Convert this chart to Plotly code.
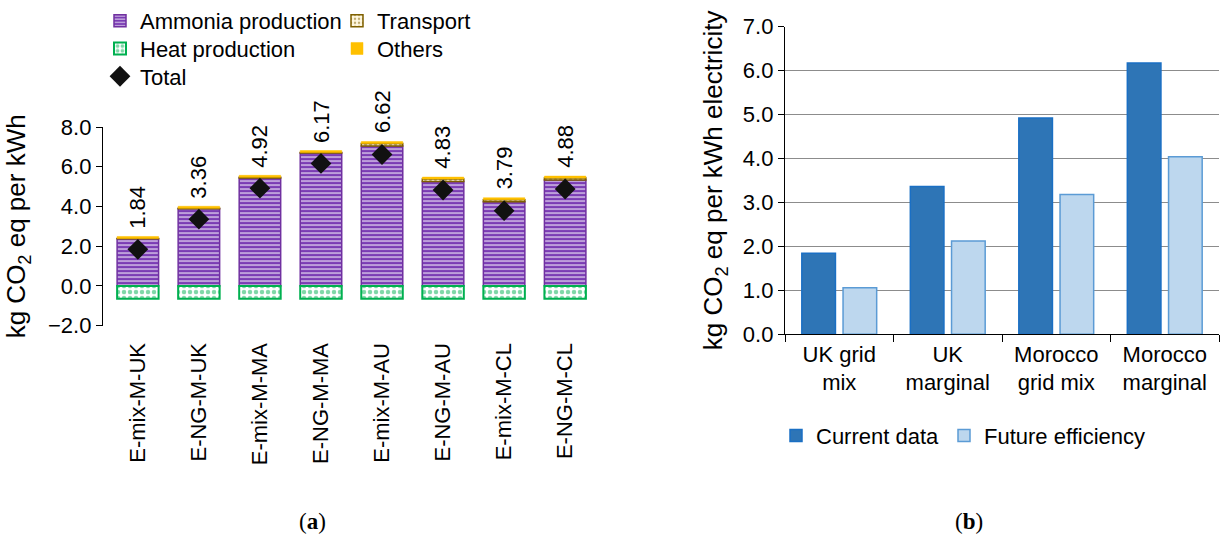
import plotly.graph_objects as go

# ---------------- data: panel (a) ----------------
scenarios = ["E-mix-M-UK", "E-NG-M-UK", "E-mix-M-MA", "E-NG-M-MA",
             "E-mix-M-AU", "E-NG-M-AU", "E-mix-M-CL", "E-NG-M-CL"]
ammonia_production = [2.37, 3.89, 5.44, 6.69, 7.05, 5.26, 4.24, 5.33]
transport = [0.02, 0.02, 0.03, 0.03, 0.12, 0.12, 0.10, 0.10]
others = [0.10, 0.10, 0.10, 0.10, 0.10, 0.10, 0.10, 0.10]
heat_production = [-0.65, -0.65, -0.65, -0.65, -0.65, -0.65, -0.65, -0.65]
total = [1.84, 3.36, 4.92, 6.17, 6.62, 4.83, 3.79, 4.88]

# ---------------- data: panel (b) ----------------
grids = ["UK grid<br>mix", "UK<br>marginal", "Morocco<br>grid mix", "Morocco<br>marginal"]
current_data = [1.84, 3.36, 4.92, 6.17]
future_efficiency = [1.06, 2.12, 3.18, 4.04]

W, H = 1225, 541
FONT = "Liberation Sans, Arial, sans-serif"
FS = 22

def px_x(p):
    return p / W

def px_y(p):
    return 1 - p / H

# panel (a) geometry
ax_l, ax_r = px_x(103), px_x(600)
ay_b, ay_t = px_y(324), px_y(124)
yl_min, yl_max = -2, 8
zero_pos = ay_b + (0 - yl_min) / (yl_max - yl_min) * (ay_t - ay_b)

# panel (b) geometry
bx_l, bx_r = px_x(785), px_x(1219)
by_b, by_t = px_y(332.7), px_y(22.7)

fig = go.Figure()

purple = "#7030A0"
stripe_purple = "#7A3CB4"
green = "#00B050"
brown = "#7F6000"
yellow = "#FFC000"

fig.add_trace(go.Bar(
    name="Ammonia production", x=scenarios, y=ammonia_production,
    xaxis="x", yaxis="y", legend="legend",
    marker=dict(color=stripe_purple, line=dict(color=purple, width=1.5),
                pattern=dict(shape="-", fgcolor="white", bgcolor=stripe_purple,
                             size=4, solidity=0.5)),
))
fig.add_trace(go.Bar(
    name="Transport", x=scenarios, y=transport,
    xaxis="x", yaxis="y", legend="legend2",
    marker=dict(color="white", line=dict(color=brown, width=1.5),
                pattern=dict(shape=".", fgcolor=brown, bgcolor="#FFF8E0",
                             size=5, solidity=0.3)),
))
fig.add_trace(go.Bar(
    name="Others", x=scenarios, y=others,
    xaxis="x", yaxis="y", legend="legend4",
    marker=dict(color=yellow, line=dict(color=yellow, width=0.5)),
))
fig.add_trace(go.Bar(
    name="Heat production", x=scenarios, y=heat_production,
    xaxis="x", yaxis="y", legend="legend5",
    marker=dict(color="white", line=dict(color=green, width=2),
                pattern=dict(shape=".", fgcolor=green, bgcolor="white",
                             size=6, solidity=0.45)),
))
fig.add_trace(go.Scatter(
    name="Total", x=scenarios, y=total, mode="markers",
    xaxis="x", yaxis="y", legend="legend6",
    marker=dict(symbol="diamond", size=16, color="#111111"),
))

# panel (b) bars (explicit base keeps them out of the stacking)
fig.add_trace(go.Bar(
    name="Current data", x=grids, y=current_data, base=0,
    width=0.31, offset=-0.345,
    xaxis="x2", yaxis="y2", legend="legend3",
    marker=dict(color="#2E75B6", line=dict(color="#1A6FC4", width=1.5)),
))
fig.add_trace(go.Bar(
    name="Future efficiency", x=grids, y=future_efficiency, base=0,
    width=0.31, offset=0.035,
    xaxis="x2", yaxis="y2", legend="legend7",
    marker=dict(color="#BDD7EE", line=dict(color="#5B9BD5", width=1.5)),
))

for t in fig.data:
    t.showlegend = True

# total labels above stacks
annotations = []
for i, s in enumerate(scenarios):
    top = ammonia_production[i] + transport[i] + others[i]
    annotations.append(dict(
        x=s, y=top, xref="x", yref="y", text=f"{total[i]:.2f}",
        textangle=-90, showarrow=False, yanchor="bottom", yshift=6,
        font=dict(size=FS, color="black", family=FONT),
    ))

annotations.append(dict(x=px_x(312), y=px_y(521), xref="paper", yref="paper",
                        text="(<b>a</b>)", showarrow=False,
                        xanchor="center", yanchor="middle",
                        font=dict(size=23, family="Liberation Serif, serif", color="black")))
annotations.append(dict(x=px_x(969), y=px_y(521), xref="paper", yref="paper",
                        text="(<b>b</b>)", showarrow=False,
                        xanchor="center", yanchor="middle",
                        font=dict(size=23, family="Liberation Serif, serif", color="black")))


def leg(xp, yp):
    return dict(x=px_x(xp), y=px_y(yp), xanchor="left", yanchor="middle",
                orientation="v", bgcolor="rgba(0,0,0,0)", visible=True,
                font=dict(size=FS), tracegroupgap=0, itemwidth=30)


fig.update_layout(
    width=W, height=H, autosize=False, showlegend=True,
    margin=dict(l=0, r=0, t=0, b=0, pad=0),
    paper_bgcolor="white", plot_bgcolor="white",
    font=dict(family=FONT, size=FS, color="black"),
    barmode="relative", bargap=0.32,
    annotations=annotations,
    xaxis=dict(domain=[ax_l, ax_r], anchor="y", type="category",
               categoryorder="array", categoryarray=scenarios,
               showline=False, ticks="", tickangle=-90, automargin=False,
               ticklabelstandoff=12, showgrid=False, zeroline=False),
    xaxis3=dict(domain=[ax_l, ax_r], anchor="free", position=zero_pos,
                overlaying="x", range=[-0.5, 7.5], type="linear",
                tickvals=[0.5, 1.5, 2.5, 3.5, 4.5, 5.5, 6.5, 7.5],
                showticklabels=False, ticks="outside", ticklen=6,
                tickcolor="black", showline=True, linecolor="black",
                linewidth=1.3, showgrid=False, zeroline=False, automargin=False),
    yaxis=dict(domain=[ay_b, ay_t], anchor="x", range=[yl_min, yl_max],
               dtick=2, tickformat=".1f", showgrid=False, zeroline=False,
               showline=True, linecolor="black", linewidth=1.3,
               ticks="outside", ticklen=6, tickcolor="black", automargin=False,
               title=dict(text="kg CO<sub>2</sub> eq per kWh", standoff=14)),
    xaxis2=dict(domain=[bx_l, bx_r], anchor="y2", type="category",
                categoryorder="array", categoryarray=grids,
                showline=True, linecolor="black", linewidth=1.3,
                ticks="outside", tickson="boundaries", ticklen=7,
                tickcolor="black", showgrid=False, zeroline=False, automargin=False),
    yaxis2=dict(domain=[by_b, by_t], anchor="x2", range=[0, 7],
                dtick=1, tickformat=".1f", showgrid=True, gridcolor="#8C8C8C",
                gridwidth=1, zeroline=False,
                showline=True, linecolor="black", linewidth=1.3,
                ticks="outside", ticklen=6, tickcolor="black", automargin=False,
                title=dict(text="kg CO<sub>2</sub> eq per kWh electricity", standoff=12)),
    legend=leg(100, 17),
    legend5=leg(100, 45),
    legend6=leg(100, 73),
    legend2=leg(337, 17),
    legend4=leg(337, 45),
    legend3=leg(776, 435),
    legend7=leg(944, 435),
)

fig.write_html("out.html", config={"displayModeBar": False},
               post_script="document.body.style.margin='0px';document.body.style.overflow='hidden';")
